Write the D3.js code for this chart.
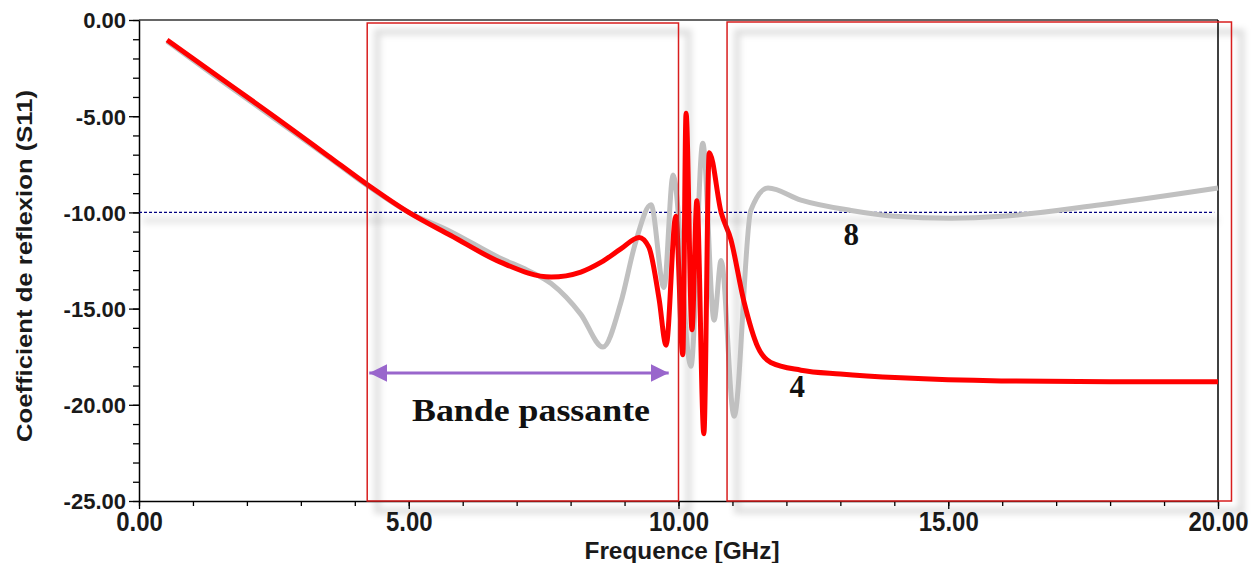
<!DOCTYPE html>
<html><head><meta charset="utf-8">
<script src="https://cdn.jsdelivr.net/npm/d3@7"></script>
<style>body{margin:0;background:#fff}svg{display:block}</style>
</head><body>
<svg id="c" width="1257" height="563"></svg>
<script>
// ---- data ----
const redFreq = [0.52, 1.5, 2.5, 3.5, 4.23, 5.0, 5.78, 6.71, 7.64, 8.19, 8.56, 8.93, 9.27, 9.45, 9.64, 9.77, 9.95, 10.08, 10.14, 10.25, 10.34, 10.47, 10.57, 10.79, 10.97, 11.21, 11.47, 11.71, 12.27, 13.0, 14.12, 15.98, 18.0, 20.0];
const redS11  = [-1.04, -3.0, -5.0, -7.05, -8.55, -10.0, -11.2, -12.6, -13.36, -13.1, -12.6, -11.9, -11.3, -11.8, -14.5, -16.9, -10.2, -17.4, -4.85, -16.1, -9.4, -21.5, -6.9, -10.0, -11.4, -14.6, -17.0, -17.8, -18.2, -18.4, -18.6, -18.76, -18.8, -18.8];
const grayFreq = [0.52, 1.5, 2.5, 3.5, 4.23, 5.0, 5.78, 6.71, 7.2, 7.64, 8.19, 8.6, 8.93, 9.2, 9.49, 9.73, 9.9, 10.23, 10.45, 10.66, 10.79, 11.03, 11.34, 11.66, 12.27, 13.2, 14.0, 15.05, 16.0, 17.83, 20.0];
const grayS11  = [-1.1, -3.1, -5.1, -7.1, -8.6, -10.0, -11.0, -12.4, -13.0, -13.7, -15.3, -17.0, -14.7, -11.6, -9.6, -13.9, -8.06, -18.0, -6.4, -15.6, -12.5, -20.6, -9.9, -8.73, -9.36, -9.9, -10.2, -10.3, -10.2, -9.6, -8.73];
const xTicks = [0, 5, 10, 15, 20];
const yTicks = [0, -5, -10, -15, -20, -25];
const threshold = -10;
const bandRects = [[4.23, 10.0], [10.9, 20.25]];   // frequency extents of the highlight boxes
const bandArrow = [4.25, 9.8];
const labels = [{t:"8", f:13.2, v:-11.7}, {t:"4", f:12.2, v:-19.6}];

// ---- scales ----
const svg = d3.select("#c");
const x = d3.scaleLinear().domain([0, 20]).range([139, 1218]);
const y = d3.scaleLinear().domain([-25, 0]).range([501, 20]);

const defs = svg.append("defs");
defs.append("filter").attr("id","blur").attr("x","-5%").attr("y","-5%").attr("width","110%").attr("height","110%")
  .append("feGaussianBlur").attr("stdDeviation", 3);
defs.append("marker").attr("id","ah").attr("viewBox","0 0 10 10").attr("refX",10).attr("refY",5)
  .attr("markerWidth",6).attr("markerHeight",6).attr("markerUnits","strokeWidth").attr("orient","auto-start-reverse")
  .append("path").attr("d","M0,0L10,5L0,10z").attr("fill","#9966cc");

// ---- shadows ----
const sh = svg.append("g").attr("filter","url(#blur)");
bandRects.forEach(r => {
  sh.append("rect").attr("x", x(r[0]) + 10).attr("y", y(0) + 12)
    .attr("width", x(r[1]) - x(r[0])).attr("height", y(-25) - y(0) - 2)
    .attr("fill","none").attr("stroke","#000").attr("stroke-opacity",0.13).attr("stroke-width",6);
});
sh.append("line").attr("x1", x(0) + 4).attr("x2", x(20)).attr("y1", y(threshold) + 8).attr("y2", y(threshold) + 8)
  .attr("stroke","#000").attr("stroke-opacity",0.1).attr("stroke-width",6);

// ---- frame ----
svg.append("line").attr("x1",x(0)).attr("x2",x(20)).attr("y1",y(0)).attr("y2",y(0)).attr("stroke","#333").attr("stroke-width",1.5);
svg.append("line").attr("x1",x(20)).attr("x2",x(20)).attr("y1",y(0)).attr("y2",y(-25)).attr("stroke","#000").attr("stroke-width",1.5);

// ---- axes ----
const fmt = d => d.toFixed(2);
const gx = svg.append("g").attr("transform",`translate(0,${y(-25)})`)
  .call(d3.axisBottom(x).tickValues(xTicks).tickFormat(fmt).tickSize(8).tickSizeOuter(0));
svg.append("g").attr("transform",`translate(0,${y(-25)})`)
  .call(d3.axisBottom(x).tickValues(d3.range(0, 21)).tickFormat("").tickSize(5).tickSizeOuter(0))
  .select(".domain").remove();
const gy = svg.append("g").attr("transform",`translate(${x(0)},0)`)
  .call(d3.axisLeft(y).tickValues(yTicks).tickFormat(fmt).tickSize(10).tickSizeOuter(0));
svg.append("g").attr("transform",`translate(${x(0)},0)`)
  .call(d3.axisLeft(y).tickValues(d3.range(-25, 1)).tickFormat("").tickSize(6).tickSizeOuter(0))
  .select(".domain").remove();
svg.selectAll(".domain").attr("stroke","#000").attr("stroke-width",1.5);
svg.selectAll(".tick line").attr("stroke","#000").attr("stroke-width",1.3);
gx.selectAll(".tick text").attr("y",0).attr("dy",0)
  .attr("transform","translate(0,30) scale(1,1.15)")
  .attr("font-family","Arial, 'Liberation Sans', sans-serif").attr("font-weight","bold").attr("font-size",24).attr("fill","#1a1a1a");
gy.selectAll(".tick text").attr("x",-13).attr("dy","0.36em")
  .attr("font-family","Arial, 'Liberation Sans', sans-serif").attr("font-weight","bold").attr("font-size",22).attr("fill","#1a1a1a");

// ---- threshold line ----
svg.append("line").attr("x1",x(0)).attr("x2",x(19.93)).attr("y1",y(threshold)).attr("y2",y(threshold))
  .attr("stroke","#000080").attr("stroke-width",1.3).attr("stroke-dasharray","3,2");

// ---- curves ----
const line = d3.line().x(d => x(d[0])).y(d => y(d[1])).curve(d3.curveMonotoneX);
svg.append("path").datum(d3.zip(grayFreq, grayS11)).attr("d", line)
  .attr("fill","none").attr("stroke","#c0c0c0").attr("stroke-width",5).attr("stroke-linejoin","round");
svg.append("path").datum(d3.zip(redFreq, redS11)).attr("d", line)
  .attr("fill","none").attr("stroke","#ff0000").attr("stroke-width",5).attr("stroke-linejoin","round");

// ---- highlight boxes ----
svg.append("rect").attr("x", x(bandRects[0][0])).attr("y", 23).attr("width", x(bandRects[0][1]) - x(bandRects[0][0]))
  .attr("height", y(-25) - 23).attr("fill","none").attr("stroke","#d81e1e").attr("stroke-width",1.5);
svg.append("rect").attr("x", x(bandRects[1][0])).attr("y", 22).attr("width", x(bandRects[1][1]) - x(bandRects[1][0]))
  .attr("height", y(-25) - 22).attr("fill","none").attr("stroke","#d81e1e").attr("stroke-width",1.5);

// ---- annotations ----
svg.append("line").attr("x1", x(bandArrow[0]) + 1).attr("x2", x(bandArrow[1]) + 1)
  .attr("y1", 373).attr("y2", 373).attr("stroke","#9966cc").attr("stroke-width",3)
  .attr("marker-start","url(#ah)").attr("marker-end","url(#ah)");
svg.append("text").attr("x", 412).attr("y", 421).attr("textLength", 238).attr("lengthAdjust","spacingAndGlyphs")
  .attr("font-family","'Times New Roman', 'Liberation Serif', serif").attr("font-weight","bold").attr("font-size",31)
  .attr("fill","#111").text("Bande passante");
svg.selectAll("text.lbl").data(labels).enter().append("text").attr("class","lbl")
  .attr("x", d => x(d.f)).attr("y", d => y(d.v)).attr("text-anchor","middle")
  .attr("font-family","'Times New Roman', 'Liberation Serif', serif").attr("font-weight","bold").attr("font-size",31)
  .attr("fill","#111").text(d => d.t);

// ---- axis titles ----
svg.append("text").attr("x", 682).attr("y", 559).attr("text-anchor","middle")
  .attr("textLength", 195).attr("lengthAdjust","spacingAndGlyphs")
  .attr("font-family","Arial, 'Liberation Sans', sans-serif").attr("font-weight","bold").attr("font-size",24)
  .attr("fill","#1a1a1a").text("Frequence [GHz]");
svg.append("text").attr("transform","translate(32,266) rotate(-90)").attr("text-anchor","middle")
  .attr("textLength", 352).attr("lengthAdjust","spacingAndGlyphs")
  .attr("font-family","Arial, 'Liberation Sans', sans-serif").attr("font-weight","bold").attr("font-size",22)
  .attr("fill","#1a1a1a").text("Coefficient de reflexion (S11)");
</script>
</body></html>
